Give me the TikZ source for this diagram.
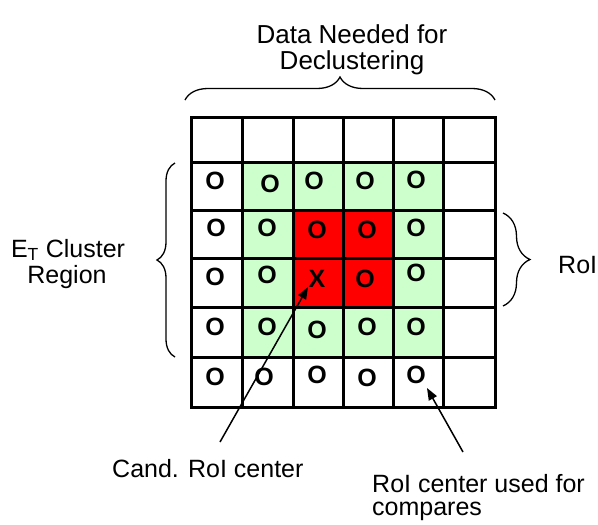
\documentclass[tikz,border=0pt]{standalone}
\usepackage{fontspec}
\setmainfont{Liberation Sans}
\usetikzlibrary{arrows.meta,decorations.pathreplacing}
\definecolor{cellgreen}{HTML}{CCFFCC}
\definecolor{cellred}{HTML}{FF0000}
\begin{document}
\begin{tikzpicture}[x=1pt,y=-1pt,
  lbl/.style={inner sep=0pt,font=\fontsize{25}{27}\selectfont},
  toplbl/.style={inner sep=0pt,font=\fontsize{26}{28}\selectfont},
  cellmark/.style={inner sep=0pt,font=\fontsize{25}{25}\selectfont\bfseries},
  gridline/.style={line width=3pt,line cap=rect},
  bracepath/.style={line width=1.3pt,decorate,decoration={brace,amplitude=#1}},
  ptr/.style={line width=1.5pt,-{Triangle[length=12pt,width=9pt]}}]
\useasboundingbox (0,0) rectangle (598,525);
% cell fills
\fill[cellgreen] (242,162) rectangle (443,357);
\fill[cellred] (293,210) rectangle (393,307);
% grid
\foreach \x in {191,242,293,343,393,443,495}
  \draw[gridline] (\x,117) -- (\x,407);
\foreach \y in {117,162,210,258,307,357,407}
  \draw[gridline] (191,\y) -- (495,\y);
% marks
\node[cellmark] (o21) at (215,181) {O};
\node[cellmark] (o22) at (270,184) {O};
\node[cellmark] (o23) at (314,181) {O};
\node[cellmark] (o24) at (365,181) {O};
\node[cellmark] (o25) at (416,180) {O};
\node[cellmark] (o31) at (216,228) {O};
\node[cellmark] (o32) at (267,228) {O};
\node[cellmark] (o33) at (317,230) {O};
\node[cellmark] (o34) at (367,230) {O};
\node[cellmark] (o35) at (416,228) {O};
\node[cellmark] (o41) at (215,277) {O};
\node[cellmark] (o42) at (267,275) {O};
\node[cellmark] (x43) at (317,279) {X};
\node[cellmark] (o44) at (365,279) {O};
\node[cellmark] (o45) at (416,273) {O};
\node[cellmark] (o51) at (215,327) {O};
\node[cellmark] (o52) at (267,327) {O};
\node[cellmark] (o53) at (317,330) {O};
\node[cellmark] (o54) at (367,327) {O};
\node[cellmark] (o55) at (416,327) {O};
\node[cellmark] (o61) at (215,377) {O};
\node[cellmark] (o62) at (264,377) {O};
\node[cellmark] (o63) at (317,375) {O};
\node[cellmark] (o64) at (367,378) {O};
\node[cellmark] (o65) at (416,375) {O};
% braces
\draw[bracepath=23] (185,100) -- (495,100);
\draw[bracepath=18] (175,357) -- (175,163);
\draw[bracepath=27] (503,213) -- (503,306);
% labels
\node[toplbl,anchor=base] (t1) at (352,43) {Data Needed for};
\node[toplbl,anchor=base] (t2) at (352,69) {Declustering};
\node[lbl,anchor=base] (e1) at (68,257) {E\textsubscript{T} Cluster};
\node[lbl,anchor=base] (e2) at (67,283) {Region};
\node[lbl,anchor=base west] (roi) at (558,273) {RoI};
\node[lbl,anchor=base west] (cand) at (112,477) {Cand. RoI center};
\node[lbl,anchor=base west] (used1) at (372,492) {RoI center used for};
\node[lbl,anchor=base west] (used2) at (372,515) {compares};
% arrows
\coordinate (a1s) at (220,442);
\coordinate (a1e) at (308,287);
\coordinate (a2s) at (463,452);
\coordinate (a2e) at (427,388);
\draw[ptr] (a1s) -- (a1e);
\draw[ptr] (a2s) -- (a2e);
\end{tikzpicture}
\end{document}
